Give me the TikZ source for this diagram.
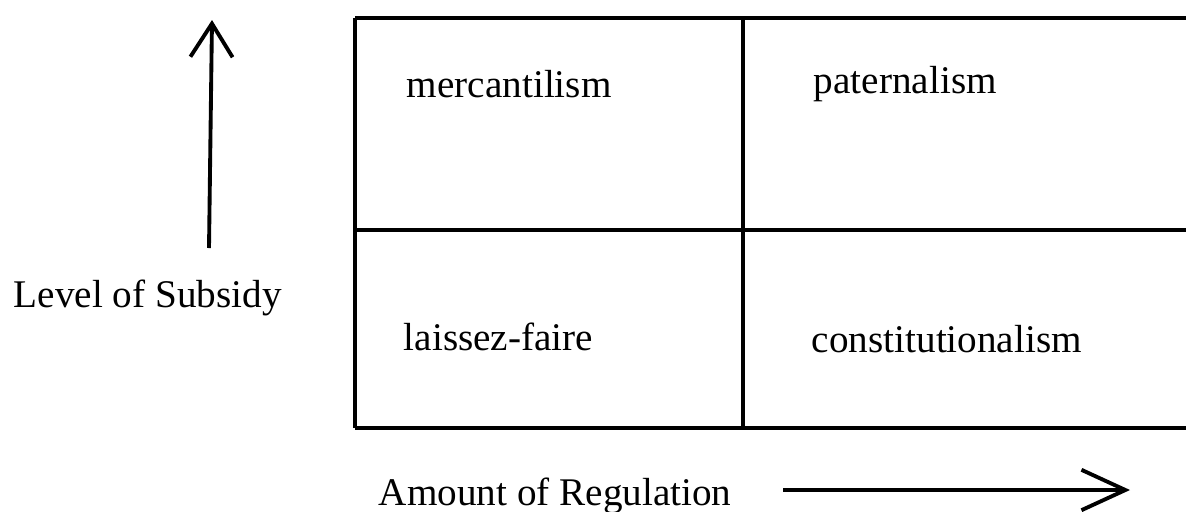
\documentclass[tikz,border=0pt]{standalone}
\usepackage{fontspec}
\setmainfont{Liberation Serif}
\usetikzlibrary{arrows.meta}

\begin{document}
\begin{tikzpicture}[x=0.02cm,y=-0.02cm,line width=2.2pt,
  lbl/.style={anchor=base west,inner sep=0pt,font=\fontsize{22.3}{26}\selectfont},
  axis/.style={-{Straight Barb[length=19pt,width=24pt,line width=2.2pt]}}]
\useasboundingbox (0,0) rectangle (1186,511);
\draw (355,18) -- (1186,18);
\draw (355,230) -- (1186,230);
\draw (355,428) -- (1186,428);
\draw (355,18) -- (355,428);
\draw (743,18) -- (743,428);
\draw (405,97) node[lbl] (merc) {mercantilism};
\draw (812,93) node[lbl] (pater) {paternalism};
\draw (402,350) node[lbl] (laissez) {laissez-faire};
\draw (810,352) node[lbl] (const) {constitutionalism};
\draw (12,307) node[lbl] (subsidy) {Level of Subsidy};
\draw (377,505) node[lbl] (regul) {Amount of Regulation};
\coordinate (sub0) at (209,248);
\coordinate (sub1) at (212,20);
\coordinate (reg0) at (783,490);
\coordinate (reg1) at (1130,490);
\draw[axis] (sub0) -- (sub1);
\draw[axis,-{Straight Barb[length=25pt,width=23pt,line width=2.2pt]}] (reg0) -- (reg1);
\end{tikzpicture}
\end{document}
